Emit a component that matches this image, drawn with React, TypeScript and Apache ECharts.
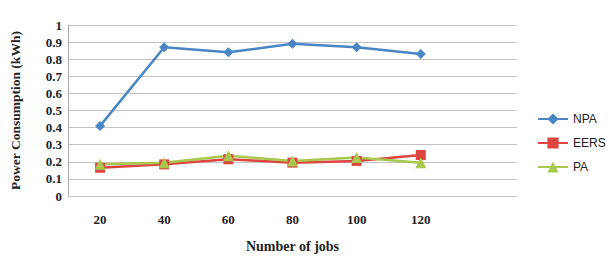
import React, { useEffect, useRef } from "react";
import * as echarts from "echarts";

const categories = ["20", "40", "60", "80", "100", "120", ""];
const npa = [0.41, 0.87, 0.84, 0.89, 0.87, 0.83];
const eers = [0.165, 0.185, 0.215, 0.195, 0.205, 0.24];
const pa = [0.185, 0.195, 0.235, 0.205, 0.225, 0.195];

export default function App() {
  const ref = useRef<HTMLDivElement>(null);
  useEffect(() => {
    const chart = echarts.init(ref.current!, null, { renderer: "svg" });
    const serif = "'Liberation Serif', 'Times New Roman', serif";
    chart.setOption({
      animation: false,
      backgroundColor: "#ffffff",
      grid: { left: 63, right: 91, top: 25, bottom: 61 },
      xAxis: {
        type: "category",
        data: categories,
        boundaryGap: true,
        axisLine: { show: false },
        axisTick: { show: false },
        axisLabel: { color: "#222", fontFamily: serif, fontSize: 13, fontWeight: "bold", margin: 17 },
        name: "Number of jobs",
        nameLocation: "middle",
        nameGap: 43,
        nameTextStyle: { color: "#222", fontFamily: serif, fontSize: 14, fontWeight: "bold" },
      },
      yAxis: {
        type: "value",
        min: 0,
        max: 1,
        interval: 0.1,
        axisLine: { show: true, lineStyle: { color: "#aaaaaa" } },
        axisTick: { show: false },
        splitLine: { lineStyle: { color: "#c4c4c4" } },
        axisLabel: { color: "#222", fontFamily: serif, fontSize: 13, fontWeight: "bold", margin: 6 },
        name: "Power Consumption (kWh)",
        nameLocation: "middle",
        nameGap: 46,
        nameTextStyle: { color: "#222", fontFamily: serif, fontSize: 13.5, fontWeight: "bold" },
      },
      legend: {
        orient: "vertical",
        left: 532,
        top: 108,
        itemGap: 12,
        itemWidth: 30,
        itemHeight: 14,
        textStyle: { fontFamily: "'Liberation Sans', Arial, sans-serif", fontSize: 12, color: "#222" },
        data: ["NPA", "EERS", "PA"],
      },
      series: [
        {
          name: "NPA",
          type: "line",
          data: npa,
          color: "#4A86C5",
          symbol: "diamond",
          symbolSize: 10,
          lineStyle: { width: 2.5 },
        },
        {
          name: "EERS",
          type: "line",
          data: eers,
          color: "#DD4640",
          symbol: "rect",
          symbolSize: 10,
          lineStyle: { width: 2.5 },
        },
        {
          name: "PA",
          type: "line",
          data: pa,
          color: "#A8C84E",
          symbol: "triangle",
          symbolSize: 11,
          lineStyle: { width: 2.5 },
        },
      ],
    });
    return () => chart.dispose();
  }, []);
  return <div ref={ref} style={{ width: 608, height: 258, position: "absolute", left: 0, top: 0 }} />;
}
